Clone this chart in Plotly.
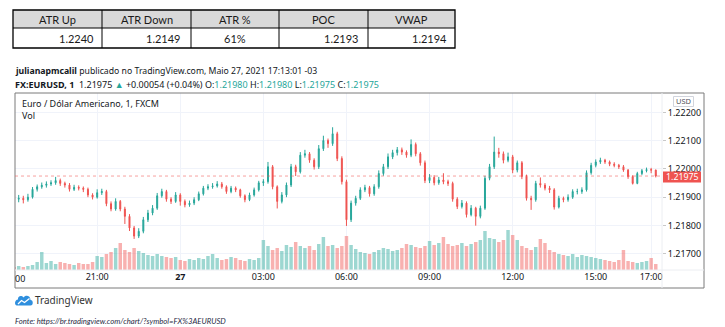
import plotly.graph_objects as go
import pandas as pd

W, H = 725, 327
def px(x): return x / W
def py(y): return 1 - y / H

# ---------------- data ----------------
table_headers = ["ATR Up", "ATR Down", "ATR %", "POC", "VWAP"]
table_values = ["1.2240", "1.2149", "61%", "1.2193", "1.2194"]

open_ = [1.21905,1.21893,1.21896,1.21891,1.21900,1.21928,1.21937,1.21942,1.21947,1.21951,
         1.21959,1.21949,1.21943,1.21928,1.21935,1.21932,1.21928,1.21908,1.21900,1.21916,
         1.21920,1.21877,1.21858,1.21885,1.21858,1.21832,1.21791,1.21762,1.21779,1.21820,
         1.21844,1.21861,1.21905,1.21920,1.21893,1.21885,1.21908,1.21885,1.21873,1.21879,
         1.21891,1.21912,1.21932,1.21937,1.21940,1.21947,1.21937,1.21920,1.21932,1.21926,
         1.21905,1.21891,1.21908,1.21926,1.21951,1.21955,1.22008,1.21937,1.21885,1.21908,
         1.21943,1.22008,1.21990,1.22049,1.22054,1.22031,1.22008,1.22072,1.22101,1.22090,
         1.22125,1.22037,1.21955,1.21820,1.21879,1.21896,1.21926,1.21934,1.21912,1.21937,
         1.21984,1.22008,1.22043,1.22058,1.22068,1.22060,1.22049,1.22087,1.22054,1.22022,
         1.21959,1.21970,1.21951,1.21961,1.21955,1.21949,1.21893,1.21867,1.21879,1.21838,
         1.21861,1.21832,1.21861,1.21967,1.22008,1.22060,1.22054,1.22031,1.22043,1.21996,
         1.22022,1.21973,1.21896,1.21891,1.21949,1.21943,1.21932,1.21926,1.21865,1.21896,
         1.21891,1.21900,1.21920,1.21920,1.21926,1.21987,1.22013,1.22025,1.22031,1.22025,
         1.22017,1.22013,1.22008,1.21996,1.21973,1.21949,1.21984,1.21994,1.21998,1.21996]

close = [1.21893,1.21896,1.21891,1.21900,1.21928,1.21937,1.21942,1.21947,1.21951,1.21959,
         1.21949,1.21943,1.21928,1.21935,1.21932,1.21928,1.21908,1.21900,1.21916,1.21920,
         1.21877,1.21858,1.21885,1.21858,1.21832,1.21791,1.21762,1.21779,1.21820,1.21844,
         1.21861,1.21905,1.21920,1.21893,1.21885,1.21908,1.21885,1.21873,1.21879,1.21891,
         1.21912,1.21932,1.21937,1.21940,1.21947,1.21937,1.21920,1.21932,1.21926,1.21905,
         1.21891,1.21908,1.21926,1.21951,1.21955,1.22008,1.21937,1.21885,1.21908,1.21943,
         1.22008,1.21990,1.22049,1.22054,1.22031,1.22008,1.22072,1.22101,1.22090,1.22125,
         1.22037,1.21955,1.21820,1.21879,1.21896,1.21926,1.21934,1.21912,1.21937,1.21984,
         1.22008,1.22043,1.22058,1.22068,1.22060,1.22049,1.22087,1.22054,1.22022,1.21959,
         1.21970,1.21951,1.21961,1.21955,1.21949,1.21893,1.21867,1.21879,1.21838,1.21861,
         1.21832,1.21861,1.21967,1.22008,1.22060,1.22054,1.22031,1.22043,1.21996,1.22022,
         1.21973,1.21896,1.21891,1.21949,1.21943,1.21932,1.21926,1.21865,1.21896,1.21891,
         1.21900,1.21920,1.21920,1.21926,1.21987,1.22013,1.22025,1.22031,1.22025,1.22017,
         1.22013,1.22008,1.21996,1.21973,1.21949,1.21984,1.21994,1.21998,1.21996,1.21975]

high = [1.21915,1.21908,1.21905,1.21912,1.21936,1.21945,1.21952,1.21956,1.21960,1.21972,
        1.21966,1.21955,1.21950,1.21944,1.21942,1.21938,1.21934,1.21914,1.21928,1.21930,
        1.21926,1.21885,1.21896,1.21890,1.21866,1.21840,1.21798,1.21790,1.21830,1.21855,
        1.21872,1.21915,1.21930,1.21926,1.21900,1.21918,1.21914,1.21892,1.21888,1.21900,
        1.21920,1.21940,1.21946,1.21950,1.21957,1.21954,1.21942,1.21940,1.21938,1.21930,
        1.21910,1.21916,1.21934,1.21958,1.21964,1.22025,1.22014,1.21942,1.21918,1.21952,
        1.22018,1.22015,1.22060,1.22068,1.22060,1.22038,1.22085,1.22118,1.22108,1.22148,
        1.22132,1.22045,1.21962,1.21888,1.21905,1.21935,1.21944,1.21940,1.21946,1.21995,
        1.22018,1.22055,1.22068,1.22078,1.22076,1.22066,1.22105,1.22094,1.22060,1.22030,
        1.21982,1.21978,1.21972,1.21985,1.21962,1.21955,1.21900,1.21890,1.21885,1.21872,
        1.21866,1.21870,1.21976,1.22018,1.22115,1.22075,1.22062,1.22058,1.22050,1.22030,
        1.22028,1.21980,1.21905,1.21958,1.21970,1.21950,1.21940,1.21932,1.21905,1.21902,
        1.21910,1.21928,1.21930,1.21935,1.21995,1.22022,1.22034,1.22040,1.22036,1.22030,
        1.22024,1.22018,1.22014,1.22000,1.21978,1.21990,1.22000,1.22005,1.22004,1.21998]

low = [1.21880,1.21882,1.21878,1.21884,1.21895,1.21920,1.21930,1.21934,1.21940,1.21944,
       1.21940,1.21934,1.21920,1.21922,1.21924,1.21918,1.21900,1.21892,1.21895,1.21908,
       1.21868,1.21850,1.21852,1.21850,1.21805,1.21780,1.21752,1.21755,1.21772,1.21812,
       1.21836,1.21855,1.21898,1.21884,1.21876,1.21880,1.21870,1.21864,1.21866,1.21872,
       1.21886,1.21906,1.21925,1.21930,1.21934,1.21930,1.21912,1.21914,1.21918,1.21898,
       1.21882,1.21886,1.21902,1.21920,1.21940,1.21948,1.21928,1.21860,1.21878,1.21900,
       1.21936,1.21975,1.21984,1.22040,1.22022,1.21998,1.22000,1.22064,1.22075,1.22082,
       1.22028,1.21945,1.21798,1.21812,1.21870,1.21890,1.21918,1.21902,1.21905,1.21930,
       1.21976,1.22000,1.22035,1.22048,1.22050,1.22040,1.22042,1.22045,1.22012,1.21950,
       1.21950,1.21942,1.21944,1.21946,1.21940,1.21884,1.21858,1.21860,1.21828,1.21832,
       1.21799,1.21825,1.21855,1.21960,1.22000,1.22040,1.22020,1.22024,1.21985,1.21988,
       1.21964,1.21888,1.21855,1.21884,1.21934,1.21924,1.21915,1.21856,1.21860,1.21882,
       1.21884,1.21894,1.21910,1.21912,1.21920,1.21980,1.22006,1.22018,1.22018,1.22010,
       1.22006,1.22000,1.21990,1.21965,1.21945,1.21946,1.21978,1.21988,1.21985,1.21970]

volume = [3,4,3,4,5,8,18,7,9,6,8,7,6,5,7,6,6,8,
          14,13,16,18,22,27,20,18,22,19,17,15,14,16,14,13,12,13,
          10,9,11,10,12,11,14,16,12,10,11,13,12,10,9,11,10,12,
          30,24,20,22,19,25,23,28,24,22,24,20,26,33,24,25,22,24,
          34,25,21,18,17,16,18,20,22,21,19,20,22,26,25,23,22,24,29,25,27,33,26,24,25,27,24,26,28,30,39,32,31,28,30,
          40,35,30,24,22,20,23,31,27,20,18,16,15,14,16,13,15,14,13,12,11,10,9,8,10,20,9,8,7,8,9,12,6]

times = pd.date_range("2021-05-26 18:00", periods=len(close), freq="10min")

time_tick_vals = ["2021-05-26 21:00", "2021-05-27 00:00", "2021-05-27 03:00", "2021-05-27 06:00",
                  "2021-05-27 09:00", "2021-05-27 12:00", "2021-05-27 15:00", "2021-05-27 17:00"]
time_tick_text = ["21:00", "<b>27</b>", "03:00", "06:00", "09:00", "12:00", "15:00", "17:00"]
price_ticks = [1.217, 1.218, 1.219, 1.220, 1.221, 1.222]
last_price = 1.21975

UP = "#26a69a"
DOWN = "#ef5350"
FONT = "Noto Sans"

# ---------------- figure ----------------
fig = go.Figure()
vol_colors = ["rgba(38,166,154,0.45)" if c >= o else "rgba(239,83,80,0.45)" for o, c in zip(open_, close)]
fig.add_trace(go.Bar(x=times, y=volume, marker=dict(color=vol_colors, line=dict(width=0)),
                     yaxis="y2", showlegend=False, hoverinfo="skip"))
fig.add_trace(go.Candlestick(x=times, open=open_, high=high, low=low, close=close,
                             increasing=dict(line=dict(color=UP, width=1), fillcolor=UP),
                             decreasing=dict(line=dict(color=DOWN, width=1), fillcolor=DOWN),
                             whiskerwidth=0, showlegend=False))

fig.update_layout(
    width=W, height=H, margin=dict(l=0, r=0, t=0, b=0),
    paper_bgcolor="white", plot_bgcolor="white", bargap=0.25, boxgap=0.7,
    font=dict(family=FONT, color="#131722"),
    xaxis=dict(domain=[px(15), px(662)], range=["2021-05-26 18:02", "2021-05-27 17:23:30"],
               rangeslider=dict(visible=False), tickmode="array", tickvals=time_tick_vals,
               ticktext=time_tick_text, showgrid=True, gridcolor="#f0f3fa", gridwidth=1,
               ticks="", tickfont=dict(size=9, color="#131722", family=FONT),
               showline=False, zeroline=False, anchor="y"),
    yaxis=dict(domain=[py(270), py(93)], range=[1.216418, 1.222695], side="right",
               tickmode="array", tickvals=price_ticks, ticktext=[f"{v:.5f}" for v in price_ticks],
               showgrid=True, gridcolor="#f0f3fa", ticks="outside", ticklen=3, tickcolor="#c8c8c8",
               tickfont=dict(size=9, color="#131722", family=FONT), showline=False, zeroline=False,
               anchor="x"),
    yaxis2=dict(overlaying="y", range=[0, 177], visible=False, anchor="x"),
)

shapes = []
# table
cols = [13, 102, 191, 279, 368, 455]
shapes.append(dict(type="rect", xref="paper", yref="paper", x0=px(13), x1=px(455), y0=py(28), y1=py(10),
                   fillcolor="#d9d9d9", line=dict(width=0), layer="below"))
shapes.append(dict(type="line", xref="paper", yref="paper", x0=px(13), x1=px(455), y0=py(28), y1=py(28),
                   line=dict(color="#000", width=1)))
for cx in cols[1:-1]:
    shapes.append(dict(type="line", xref="paper", yref="paper", x0=px(cx), x1=px(cx), y0=py(10), y1=py(48),
                       line=dict(color="#000", width=1)))
shapes.append(dict(type="rect", xref="paper", yref="paper", x0=px(13), x1=px(455), y0=py(48), y1=py(10),
                   line=dict(color="#000", width=1.3)))
# chart frame
shapes.append(dict(type="rect", xref="paper", yref="paper", x0=px(15), x1=px(704), y0=py(288), y1=py(93),
                   line=dict(color="#7a7a7a", width=1)))
shapes.append(dict(type="line", xref="paper", yref="paper", x0=px(662), x1=px(662), y0=py(288), y1=py(93),
                   line=dict(color="#eceef2", width=1)))
shapes.append(dict(type="line", xref="paper", yref="paper", x0=px(15), x1=px(704), y0=py(270), y1=py(270),
                   line=dict(color="#eceef2", width=1)))
# last price dotted line
shapes.append(dict(type="line", xref="x domain", yref="y", x0=0, x1=1, y0=last_price, y1=last_price,
                   line=dict(color="rgba(239,83,80,0.55)", width=1, dash="dot")))
# last price label
shapes.append(dict(type="rect", xref="paper", yref="paper", x0=px(663), x1=px(701), y0=py(182.5), y1=py(171.5),
                   fillcolor=DOWN, line=dict(width=0)))
# USD box
shapes.append(dict(type="rect", xref="paper", yref="paper", x0=px(673.5), x1=px(693.5), y0=py(106.5), y1=py(96.5),
                   fillcolor="white", line=dict(color="#d1d4dc", width=1)))

# TradingView logo (cloud)
def path_from(cmds):
    out = []
    for c in cmds:
        if isinstance(c, str):
            out.append(c)
        else:
            out.append(f"{px(c[0]):.5f},{py(c[1]):.5f}")
    return " ".join(out)

cloud = path_from(["M", (17, 305.5), "L", (30.5, 305.5), "C", (33.5, 305.5), (33.5, 300), (30.5, 300),
                   "C", (30.5, 295.5), (25.5, 294.5), (23.5, 297.5), "C", (21.5, 295), (17.5, 296), (18, 299.5),
                   "C", (14.5, 299.5), (14, 305.5), (17, 305.5), "Z"])
shapes.append(dict(type="path", xref="paper", yref="paper", path=cloud, fillcolor="#2f8fde", line=dict(width=0)))
zig = path_from(["M", (18, 304), "L", (21.5, 300.5), "L", (24.5, 302.5), "L", (29.5, 298.5)])
shapes.append(dict(type="path", xref="paper", yref="paper", path=zig, line=dict(color="white", width=1.3)))

fig.update_layout(shapes=shapes)

ann = []
TFONT = "Lato"
for i, h in enumerate(table_headers):
    ann.append(dict(x=px((cols[i] + cols[i + 1]) / 2), y=py(19), text=h, xanchor="center", yanchor="middle",
                    font=dict(family=TFONT, size=11, color="#1a1a1a")))
val_right = [96, 183, None, 361, 449]
for i, v in enumerate(table_values):
    if val_right[i] is None:
        ann.append(dict(x=px(234.5), y=py(38.5), text=v, xanchor="center", yanchor="middle",
                        font=dict(family=TFONT, size=11, color="#1a1a1a")))
    else:
        ann.append(dict(x=px(val_right[i]), y=py(38.5), text=v, xanchor="right", yanchor="middle",
                        font=dict(family=TFONT, size=11, color="#1a1a1a")))

g = f"<span style='color:{UP}'>"
ann.append(dict(x=px(13), y=py(71), xanchor="left", yanchor="middle",
                text="<b>julianapmcalil</b> publicado no TradingView.com, Maio 27, 2021 17:13:01 -03",
                font=dict(family=FONT, size=8.7, color="#131722")))
ann.append(dict(x=px(13), y=py(84), xanchor="left", yanchor="middle",
                text=(f"<b>FX:EURUSD, 1</b>  1.21975 {g}▲</span> +0.00054 (+0.04%) "
                      f"O:{g}1.21980</span> H:{g}1.21980</span> L:{g}1.21975</span> C:{g}1.21975</span>"),
                font=dict(family=FONT, size=9, color="#131722")))
ann.append(dict(x=px(20), y=py(104), xanchor="left", yanchor="middle",
                text="Euro / Dólar Americano, 1, FXCM", font=dict(family=FONT, size=9, color="#131722")))
ann.append(dict(x=px(20), y=py(116), xanchor="left", yanchor="middle",
                text="Vol", font=dict(family=FONT, size=9, color="#131722")))
ann.append(dict(x=px(20), y=py(278), xanchor="center", yanchor="middle",
                text="00", font=dict(family=FONT, size=9, color="#131722")))
ann.append(dict(x=px(683.5), y=py(101.5), xanchor="center", yanchor="middle",
                text="USD", font=dict(family=FONT, size=7.5, color="#50535e")))
ann.append(dict(x=px(682), y=py(177.3), xanchor="center", yanchor="middle",
                text=f"{last_price:.5f}", font=dict(family=FONT, size=8.8, color="white")))
ann.append(dict(x=px(33), y=py(300), xanchor="left", yanchor="middle",
                text="TradingView", font=dict(family=FONT, size=10, color="#333333")))
ann.append(dict(x=px(13), y=py(320.5), xanchor="left", yanchor="middle",
                text="<i>Fonte: https://br.tradingview.com/chart/?symbol=FX%3AEURUSD</i>",
                font=dict(family=TFONT, size=7.7, color="#1f2a44")))
for a in ann:
    a.update(xref="paper", yref="paper", showarrow=False)
fig.update_layout(annotations=ann)

fig.write_html("out.html")
